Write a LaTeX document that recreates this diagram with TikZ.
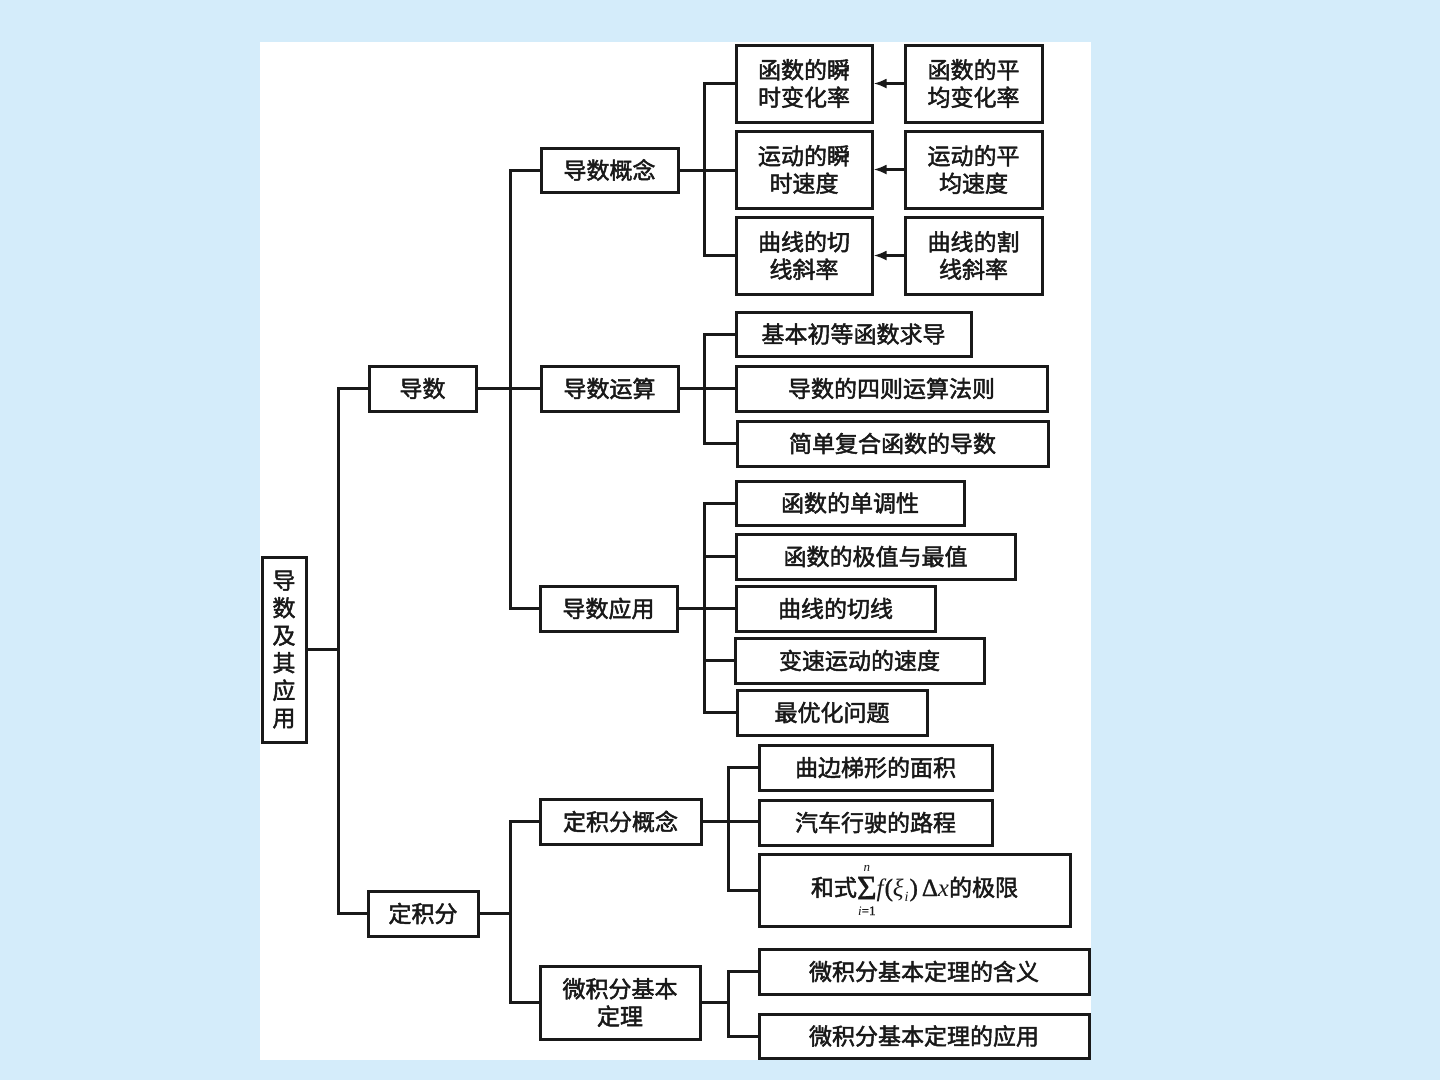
\documentclass[tikz,border=0pt]{standalone}
\usepackage{fontspec}
\setmainfont{Noto Sans CJK SC}[BoldFont=*, BoldFeatures={FakeBold=2}]
\newfontfamily\serifm{Liberation Serif}[BoldFont=*, BoldFeatures={FakeBold=1.2}]
\usetikzlibrary{arrows.meta}
\definecolor{bgblue}{RGB}{212,236,250}
\definecolor{ink}{RGB}{25,25,25}
\newcommand\bigsumsym{\leavevmode\setbox0\hbox{\fontsize{34}{34}\selectfont\serifm Σ}%
  \hbox to \wd0{\hss\raisebox{-3pt}{\copy0}\hss}\kern-\wd0
  \hbox to \wd0{\hss\raisebox{25pt}{\fontsize{13}{13}\selectfont\serifm\itshape n}\hss}\kern-\wd0
  \hbox to \wd0{\hss\raisebox{-19pt}{\fontsize{13}{13}\selectfont\serifm\itshape i\upshape =1}\hss}}
\tikzset{
  box/.style={draw=ink, line width=3pt, fill=white, inner sep=0pt, align=center, text=ink,
    font=\fontsize{23}{27.5}\selectfont\bfseries},
  conn/.style={draw=ink, line width=3pt},
  arr/.style={conn, -{Latex[length=13pt,width=10pt]}},
}
\begin{document}
\begin{tikzpicture}[x=1pt,y=-1pt]
\path[fill=bgblue] (0,0) rectangle (1440,1080);
\path[fill=white] (260,42) rectangle (1091,1060);

% bus coordinates
\coordinate (bus1) at (338,0);
\coordinate (bus2) at (510,0);
\coordinate (bus3) at (704,0);
\coordinate (bus4) at (728,0);

% level 0
\node[box, minimum width=44pt, minimum height=185pt] (root) at (284,649.5) {导\\数\\及\\其\\应\\用};
% level 1
\node[box, minimum width=107pt, minimum height=45pt] (dao) at (422.5,388.5) {导数};
\node[box, minimum width=110pt, minimum height=45pt] (djf) at (423,913.5) {定积分};
% level 2
\node[box, minimum width=137pt, minimum height=44pt] (gn) at (609.5,170) {导数概念};
\node[box, minimum width=137pt, minimum height=45pt] (ys) at (609.5,388.5) {导数运算};
\node[box, minimum width=137pt, minimum height=45pt] (yy) at (608.5,608.5) {导数应用};
\node[box, minimum width=161pt, minimum height=45pt] (jgn) at (620.5,821.5) {定积分概念};
\node[box, minimum width=160pt, minimum height=73pt] (jdl) at (620,1002.5) {微积分基本\\定理};
% level 3: concepts
\node[box, minimum width=136pt, minimum height=77pt] (c1) at (804,83.5) {函数的瞬\\时变化率};
\node[box, minimum width=136pt, minimum height=77pt] (c2) at (804,169.5) {运动的瞬\\时速度};
\node[box, minimum width=136pt, minimum height=77pt] (c3) at (804,255.5) {曲线的切\\线斜率};
\node[box, minimum width=137pt, minimum height=77pt] (r1) at (973.5,83.5) {函数的平\\均变化率};
\node[box, minimum width=137pt, minimum height=77pt] (r2) at (973.5,169.5) {运动的平\\均速度};
\node[box, minimum width=137pt, minimum height=77pt] (r3) at (973.5,255.5) {曲线的割\\线斜率};
% operations
\node[box, minimum width=235pt, minimum height=44pt] (s1) at (853.5,334) {基本初等函数求导};
\node[box, minimum width=311pt, minimum height=45pt] (s2) at (891.5,388.5) {导数的四则运算法则};
\node[box, minimum width=311pt, minimum height=45pt] (s3) at (892.5,443.5) {简单复合函数的导数};
% applications
\node[box, minimum width=228pt, minimum height=44pt] (a1) at (850,503) {函数的单调性};
\node[box, minimum width=279pt, minimum height=45pt] (a2) at (875.5,556.5) {函数的极值与最值};
\node[box, minimum width=199pt, minimum height=45pt] (a3) at (835.5,608.5) {曲线的切线};
\node[box, minimum width=249pt, minimum height=45pt] (a4) at (859.5,660.5) {变速运动的速度};
\node[box, minimum width=190pt, minimum height=45pt] (a5) at (832,712.5) {最优化问题};
% definite integral concept
\node[box, minimum width=233pt, minimum height=45pt] (d1) at (875.5,767.5) {曲边梯形的面积};
\node[box, minimum width=233pt, minimum height=45pt] (d2) at (875.5,822.5) {汽车行驶的路程};
\node[box, minimum width=311pt, minimum height=72pt] (d3) at (914.5,890)
  {和式\bigsumsym{\fontsize{25}{25}\selectfont\serifm\itshape f\kern1pt\upshape (\itshape ξ\kern1pt\raisebox{-5pt}{\fontsize{14}{14}\selectfont i}\upshape\kern1pt)\kern4pt Δ\itshape x}的极限};
% fundamental theorem
\node[box, minimum width=330pt, minimum height=45pt] (e1) at (924,971.5) {微积分基本定理的含义};
\node[box, minimum width=330pt, minimum height=44pt] (e2) at (924,1036) {微积分基本定理的应用};

% connectors level 0 -> 1
\draw[conn] (root.east) -- (root.east -| bus1);
\draw[conn] (dao.west) -- (dao.west -| bus1) |- (djf.west);
% 导数 -> level 2
\draw[conn] (dao.east) -- (dao.east -| ys.west);
\draw[conn] (gn.west) -- (gn.west -| bus2) |- (yy.west);
% 定积分 -> level 2
\draw[conn] (djf.east) -- (djf.east -| bus2);
\draw[conn] (jgn.west) -- (jgn.west -| bus2) |- (jdl.west);
% 导数概念
\draw[conn] (gn.east) -- (gn.east -| c2.west);
\draw[conn] (c1.west) -- (c1.west -| bus3) |- (c3.west);
\draw[arr] (r1.west) -- (c1.east);
\draw[arr] (r2.west) -- (c2.east);
\draw[arr] (r3.west) -- (c3.east);
% 导数运算
\draw[conn] (ys.east) -- (ys.east -| s2.west);
\draw[conn] (s1.west) -- (s1.west -| bus3) |- (s3.west);
% 导数应用
\draw[conn] (yy.east) -- (yy.east -| a3.west);
\draw[conn] (a1.west) -- (a1.west -| bus3) |- (a5.west);
\draw[conn] (a2.west) -- (a2.west -| bus3);
\draw[conn] (a4.west) -- (a4.west -| bus3);
% 定积分概念
\draw[conn] (jgn.east) -- (jgn.east -| d2.west);
\draw[conn] (d1.west) -- (d1.west -| bus4) |- (d3.west);
% 微积分基本定理
\draw[conn] (jdl.east) -- (jdl.east -| bus4);
\draw[conn] (e1.west) -- (e1.west -| bus4) |- (e2.west);
\end{tikzpicture}
\end{document}
